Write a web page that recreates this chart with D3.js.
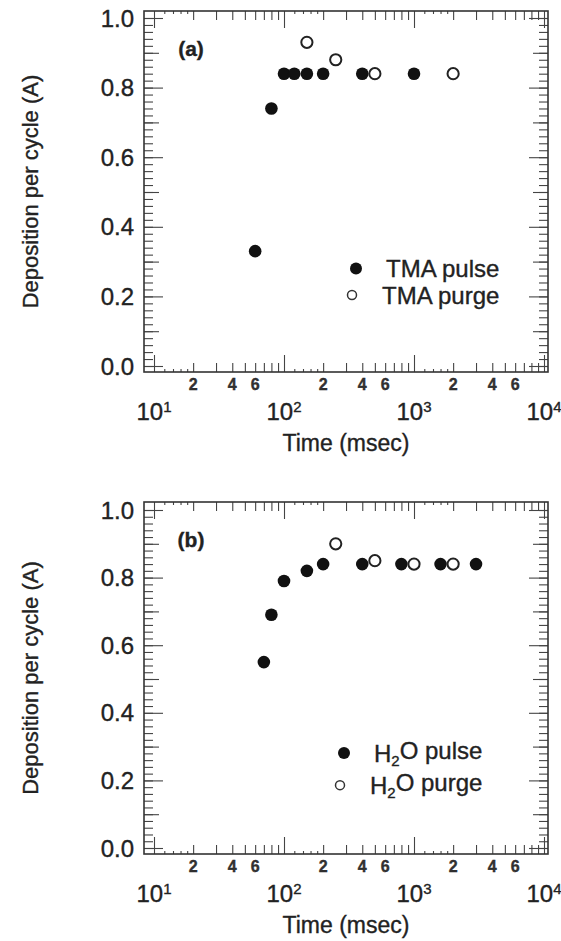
<!DOCTYPE html>
<html>
<head>
<meta charset="utf-8">
<script src="https://cdn.jsdelivr.net/npm/d3@7"></script>
<style>
  body { margin: 0; background: #fff; }
  svg { display: block; font-family: "Liberation Sans", Arial, Helvetica, sans-serif; }
  svg text { stroke: #222; stroke-width: 0.35px; }
  .frame { fill: none; stroke: #333; stroke-width: 1.6; }
  .tick line { stroke: #444; stroke-width: 1.1; }
  .domain { display: none; }
</style>
</head>
<body>
<svg id="chart" width="561" height="941"></svg>
<script>
// panel (a): TMA
const tmaPulseTime = [60, 80, 100, 120, 150, 200, 400, 1000]
const tmaPulseDep = [0.33, 0.74, 0.84, 0.84, 0.84, 0.84, 0.84, 0.84]
const tmaPurgeTime = [150, 250, 500, 2000]
const tmaPurgeDep = [0.93, 0.88, 0.84, 0.84]

// panel (b): H2O
const h2oPulseTime = [70, 80, 100, 150, 200, 400, 800, 1600, 3000]
const h2oPulseDep = [0.55, 0.69, 0.79, 0.82, 0.84, 0.84, 0.84, 0.84, 0.84]
const h2oPurgeTime = [250, 500, 1000, 2000]
const h2oPurgeDep = [0.90, 0.85, 0.84, 0.84]

const yTicks = [0, 0.2, 0.4, 0.6, 0.8, 1.0]
const decades = [10, 100, 1000, 10000]
const decadeExp = ["1", "2", "3", "4"]
const minorLabels = [2, 4, 6]

let svg = d3.select("#chart")
let left = 144, right = 548

function zip(xs, ys) {
    return xs.map((x, i) => ({ t: x, dep: ys[i] }))
}

function drawPanel(p) {
    let xScale = d3.scaleLog()
        .domain([10, 10000])
        .range([left + 10, right - 4])

    let yScale = d3.scaleLinear()
        .domain([0, 1])
        .range([p.y0, p.y1])

    let g = svg.append("g")

    // tick sets for log axis
    let mids = [], tiny = []
    decades.slice(0, 3).forEach(d => {
        for (let k = 2; k <= 9; k++) mids.push(d * k)
        ;[1.2, 1.4, 1.6, 1.8].forEach(k => tiny.push(d * k))
    })
    let yMinor = d3.range(0, 51).map(i => i * 0.02).filter(v => v <= 1.001)
    let yMid = [0.1, 0.3, 0.5, 0.7, 0.9]

    // bottom + top x ticks
    ;[[decades, 17], [mids, 9], [tiny, 3]].forEach(([vals, len]) => {
        g.append("g")
            .attr("transform", "translate(0," + p.bottom + ")")
            .call(d3.axisBottom(xScale).tickValues(vals).tickSize(-len).tickFormat(""))
        g.append("g")
            .attr("transform", "translate(0," + p.top + ")")
            .call(d3.axisTop(xScale).tickValues(vals).tickSize(-len).tickFormat(""))
    })

    // left + right y ticks
    ;[[yTicks, 19], [yMid, 15], [yMinor, 9]].forEach(([vals, len]) => {
        g.append("g")
            .attr("transform", "translate(" + left + ",0)")
            .call(d3.axisLeft(yScale).tickValues(vals).tickSize(-len).tickFormat(""))
        g.append("g")
            .attr("transform", "translate(" + right + ",0)")
            .call(d3.axisRight(yScale).tickValues(vals).tickSize(-len).tickFormat(""))
    })

    g.append("rect")
        .attr("class", "frame")
        .attr("x", left)
        .attr("y", p.top)
        .attr("width", right - left)
        .attr("height", p.bottom - p.top)

    // y tick labels
    g.selectAll(".ylab")
        .data(yTicks)
        .enter().append("text")
            .attr("x", left - 10)
            .attr("y", d => yScale(d))
            .attr("dy", "0.36em")
            .style("text-anchor", "end")
            .style("font-size", "24px")
            .style("fill", "#222")
            .text(d => d3.format(".1f")(d))

    // minor labels 2 4 6
    let minorVals = []
    decades.slice(0, 3).forEach(d => minorLabels.forEach(k => minorVals.push(d * k)))
    g.selectAll(".mlab")
        .data(minorVals)
        .enter().append("text")
            .attr("x", d => xScale(d))
            .attr("y", p.bottom + 18)
            .style("text-anchor", "middle")
            .style("font-size", "16px")
            .style("font-weight", "bold")
            .style("fill", "#333")
            .text(d => String(d).charAt(0))

    // decade labels
    let dl = g.selectAll(".dlab")
        .data(decades)
        .enter().append("text")
            .attr("x", d => xScale(d))
            .attr("y", p.bottom + 48)
            .style("text-anchor", "middle")
            .style("font-size", "24px")
            .style("fill", "#222")
    dl.append("tspan").text("10")
    dl.append("tspan")
        .attr("dy", "-0.55em")
        .style("font-size", "15px")
        .text((d, i) => decadeExp[i])

    // axis titles
    g.append("text")
        .attr("x", (left + right) / 2)
        .attr("y", p.bottom + 79)
        .style("text-anchor", "middle")
        .style("font-size", "23px")
        .style("fill", "#222")
        .text("Time (msec)")

    g.append("text")
        .attr("transform", "translate(38," + ((p.top + p.bottom) / 2) + ") rotate(-90)")
        .style("text-anchor", "middle")
        .style("font-size", "22px")
        .style("fill", "#222")
        .text("Deposition per cycle (A)")

    g.append("text")
        .attr("x", 191)
        .attr("y", p.top + 45)
        .style("text-anchor", "middle")
        .style("font-size", "21px")
        .style("font-weight", "bold")
        .style("fill", "#222")
        .text(p.label)

    // points
    g.selectAll(".pulse")
        .data(zip(p.pulseT, p.pulseD))
        .enter().append("circle")
            .attr("cx", d => xScale(d.t))
            .attr("cy", d => yScale(d.dep))
            .attr("r", 6.3)
            .style("fill", "#111")

    g.selectAll(".purge")
        .data(zip(p.purgeT, p.purgeD))
        .enter().append("circle")
            .attr("cx", d => xScale(d.t))
            .attr("cy", d => yScale(d.dep))
            .attr("r", 5.6)
            .style("fill", "#fff")
            .style("stroke", "#222")
            .style("stroke-width", 2)

    // legend
    let lg = g.append("g")
    lg.append("circle")
        .attr("cx", p.legX + 4)
        .attr("cy", yScale(p.legY[0]))
        .attr("r", 6)
        .style("fill", "#111")
    lg.append("circle")
        .attr("cx", p.legX)
        .attr("cy", yScale(p.legY[1]))
        .attr("r", 4.5)
        .style("fill", "#fff")
        .style("stroke", "#333")
        .style("stroke-width", 1.5)

    p.legText.forEach((txt, i) => {
        let t = lg.append("text")
            .attr("x", p.legX + (i == 0 ? 34 : 30))
            .attr("y", yScale(p.legY[i]))
            .attr("dy", "0.36em")
            .style("font-size", "24px")
            .style("fill", "#222")
        txt.forEach(part => {
            let s = t.append("tspan").text(part.s)
            if (part.sub) s.attr("dy", "0.3em").style("font-size", "15px")
            if (part.after) s.attr("dy", "-0.3em")
        })
    })
}

drawPanel({
    top: 11, bottom: 372, y0: 366, y1: 18, label: "(a)",
    pulseT: tmaPulseTime, pulseD: tmaPulseDep,
    purgeT: tmaPurgeTime, purgeD: tmaPurgeDep,
    legX: 352, legY: [0.28, 0.204],
    legText: [[{ s: "TMA pulse" }], [{ s: "TMA purge" }]]
})

drawPanel({
    top: 502, bottom: 854, y0: 848, y1: 510, label: "(b)",
    pulseT: h2oPulseTime, pulseD: h2oPulseDep,
    purgeT: h2oPurgeTime, purgeD: h2oPurgeDep,
    legX: 340, legY: [0.281, 0.186],
    legText: [
        [{ s: "H" }, { s: "2", sub: true }, { s: "O pulse", after: true }],
        [{ s: "H" }, { s: "2", sub: true }, { s: "O purge", after: true }]
    ]
})
</script>
</body>
</html>
